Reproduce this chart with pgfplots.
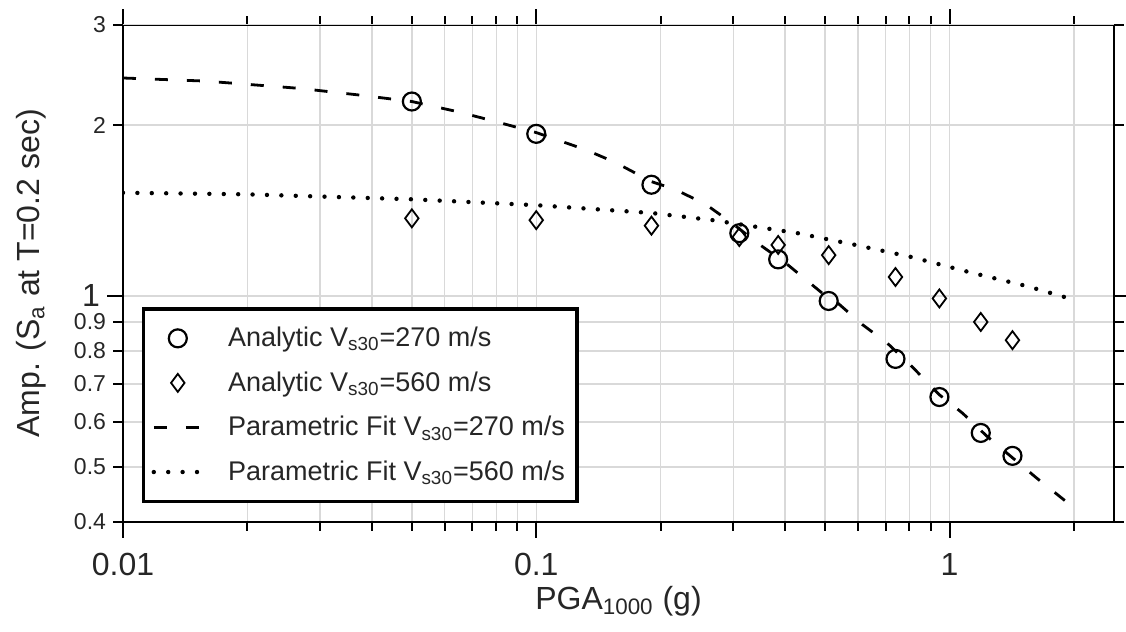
\documentclass[border=0pt]{standalone}
\usepackage{fontspec}
\setmainfont{Liberation Sans}
\usepackage{pgfplots}
\pgfplotsset{compat=1.18}
\pgfplotsset{
  markleg/.style={legend image code/.code={\draw[##1] plot coordinates {(12pt,0pt)};}},
  lineleg/.style={legend image code/.code={\draw[##1] (0pt,0pt) -- (24pt,0pt);}},
}
\begin{document}
\begin{tikzpicture}
\useasboundingbox (-61.5pt,-55pt) rectangle (501.5pt,261pt);
\begin{axis}[
  xmode=log, ymode=log,
  scale only axis, width=495.5pt, height=248.5pt,
  xmin=0.01, xmax=2.5, ymin=0.4, ymax=3,
  axis line style={line width=1.2pt},
  tick align=outside, xtick pos=both, ytick pos=both,
  major tick length=8pt, minor tick length=4.5pt,
  tick style={line width=1pt, black},
  xtick={0.01,0.1,1}, xticklabels={0.01,0.1,1},
  minor xtick={0.02,0.03,0.04,0.05,0.06,0.07,0.08,0.09,0.2,0.3,0.4,0.5,0.6,0.7,0.8,0.9,2},
  ytick={1}, yticklabels={1},
  extra y ticks={0.4,0.5,0.6,0.7,0.8,0.9,2,3},
  extra y tick labels={0.4,0.5,0.6,0.7,0.8,0.9,2,3},
  extra y tick style={major tick length=5pt, grid=major, yticklabel style={font=\fontsize{11.5}{12}\selectfont}},
  grid=both,
  major grid style={black!15, line width=0.7pt},
  minor grid style={black!15, line width=0.7pt},
  tick label style={font=\fontsize{16}{18}\selectfont, text=black!85},
  xticklabel style={yshift=-4pt},
  xlabel={PGA\textsubscript{1000} (g)},
  ylabel={Amp. (S\textsubscript{a} at T=0.2 sec)},
  label style={font=\fontsize{16}{18}\selectfont, text=black!85},
  xlabel style={at={(axis description cs:0.5,-0.16)}, anchor=center},
  ylabel style={at={(axis description cs:-0.093,0.5)}, anchor=center},
  legend style={at={(axis description cs:0.019,0.038)}, anchor=south west, draw=black, line width=1.8pt,
    font=\fontsize{13.5}{15.5}\selectfont, text=black!85, inner xsep=4pt, inner ysep=7pt, row sep=7pt, column sep=10pt},
  legend cell align=left,
]
\addplot[only marks, mark=o, mark size=4.5pt, mark options={line width=1.1pt, black}, markleg]
  coordinates {(0.05,2.20) (0.1,1.93) (0.19,1.57) (0.31,1.29) (0.385,1.16) (0.51,0.98) (0.74,0.775) (0.945,0.664) (1.19,0.574) (1.42,0.523)};
\addlegendentry{Analytic V\textsubscript{s30}=270 m/s}
\addplot[only marks, mark=diamond, mark size=4.5pt, mark options={line width=0.9pt, black}, markleg]
  coordinates {(0.05,1.37) (0.1,1.36) (0.19,1.33) (0.31,1.27) (0.385,1.23) (0.51,1.18) (0.74,1.08) (0.945,0.99) (1.19,0.90) (1.42,0.836)};
\addlegendentry{Analytic V\textsubscript{s30}=560 m/s}
\addplot[black, line width=1.4pt, dash pattern=on 6.5pt off 9.5pt, no marks, lineleg]
  coordinates {(0.01,2.42) (0.0158,2.39) (0.0268,2.32) (0.037,2.26) (0.05,2.20) (0.0647,2.11) (0.0774,2.04) (0.1,1.94) (0.1315,1.81) (0.155,1.72) (0.19,1.59) (0.217,1.54) (0.257,1.45) (0.295,1.35) (0.348,1.23) (0.403,1.14) (0.51,0.99) (0.538,0.97) (0.616,0.89) (0.707,0.826) (0.813,0.75) (0.945,0.67) (1.075,0.622) (1.236,0.565) (1.625,0.478) (1.95,0.43)};
\addlegendentry{Parametric Fit V\textsubscript{s30}=270 m/s}
\addplot[black, line width=2.2pt, line cap=round, dash pattern=on 0pt off 7.2pt, no marks, lineleg]
  coordinates {(0.01,1.52) (0.02,1.51) (0.0369,1.49) (0.05,1.48) (0.1,1.445) (0.19,1.40) (0.267,1.36) (0.429,1.29) (0.592,1.23) (0.813,1.17) (1.124,1.10) (1.545,1.04) (1.95,0.99)};
\addlegendentry{Parametric Fit V\textsubscript{s30}=560 m/s}
\draw[line width=1.2pt, black] (rel axis cs:0,0) rectangle (rel axis cs:1,1);
\end{axis}
\end{tikzpicture}
\end{document}
